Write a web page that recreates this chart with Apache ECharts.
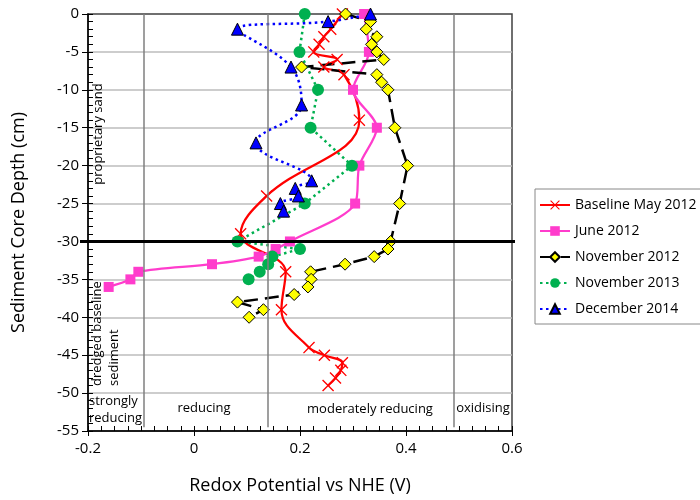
<!DOCTYPE html>
<html>
<head>
<meta charset="utf-8">
<script src="https://cdn.jsdelivr.net/npm/echarts@6/dist/echarts.min.js"></script>
<style>
  html, body { margin: 0; background: #fff; }
  #chart { width: 700px; height: 500px; }
</style>
</head>
<body>
<div id="chart"></div>
<script>
// depth (cm) and redox potential (V vs NHE) per survey
const baselineDepth = [0, -2, -3, -4, -5, -6, -7, -8, -14, -24, -29, -34, -39, -44, -45, -46, -47, -48, -49];
const baselineEh = [0.28, 0.258, 0.245, 0.236, 0.226, 0.27, 0.245, 0.283, 0.312, 0.137, 0.088, 0.173, 0.165, 0.217, 0.246, 0.28, 0.277, 0.267, 0.253];

const june2012Depth = [0, -5, -10, -15, -20, -25, -30, -31, -32, -33, -34, -35, -36];
const june2012Eh = [0.321, 0.33, 0.3, 0.345, 0.312, 0.304, 0.181, 0.154, 0.122, 0.034, -0.105, -0.12, -0.161];

const nov2012Depth = [0, -1, -2, -3, -4, -5, -6, -7, -8, -9, -10, -15, -20, -25, -30, -31, -32, -33, -34, -35, -36, -37, -38, -39, -40];
const nov2012Eh = [0.286, 0.333, 0.325, 0.345, 0.335, 0.345, 0.358, 0.203, 0.345, 0.354, 0.366, 0.379, 0.403, 0.388, 0.371, 0.366, 0.34, 0.285, 0.22, 0.221, 0.215, 0.189, 0.082, 0.131, 0.104];

const nov2013Depth = [0, -5, -10, -15, -20, -25, -30, -31, -32, -33, -34, -35];
const nov2013Eh = [0.209, 0.199, 0.234, 0.22, 0.298, 0.209, 0.082, 0.2, 0.148, 0.14, 0.124, 0.103];

const dec2014Depth = [0, -1, -2, -7, -12, -17, -22, -23, -24, -25, -26];
const dec2014Eh = [0.333, 0.253, 0.082, 0.183, 0.203, 0.117, 0.222, 0.191, 0.197, 0.163, 0.169];

const seriesNames = ['Baseline May 2012', 'June 2012', 'November 2012', 'November 2013', 'December 2014'];

// redox class boundaries (V) and the dredge depth (cm)
const zoneBounds = [-0.095, 0.14, 0.49];
const dredgeDepth = -30;

const xTicks = { min: -0.2, max: 0.6, interval: 0.2 };
const yTicks = { min: -55, max: 0, interval: 5 };

const pairs = (xs, ys) => xs.map((x, i) => [x, ys[i]]);
const FONT = '"Open Sans", sans-serif';
const crossPath = 'path://M0,1.6L1.6,0L10,8.4L18.4,0L20,1.6L11.6,10L20,18.4L18.4,20L10,11.6L1.6,20L0,18.4L8.4,10Z';

const chart = echarts.init(document.getElementById('chart'));

const option = {
  animation: false,
  textStyle: { fontFamily: FONT },
  grid: {
    left: 88, right: 188, top: 14, bottom: 68,
    show: true, borderColor: '#404040', borderWidth: 1.5,
  },
  legend: {
    orient: 'vertical',
    left: 535,
    top: 189,
    padding: [9, 8, 8, 4],
    itemWidth: 30,
    itemHeight: 12,
    itemGap: 12,
    borderColor: '#888',
    borderWidth: 1,
    textStyle: { fontSize: 14, color: '#000', fontFamily: FONT },
    data: seriesNames,
  },
  xAxis: [
    {
      type: 'value',
      min: xTicks.min, max: xTicks.max, interval: xTicks.interval,
      name: 'Redox Potential vs NHE (V)',
      nameLocation: 'middle',
      nameGap: 46,
      nameTextStyle: { fontSize: 18, color: '#000', fontFamily: FONT },
      axisLine: { onZero: false, lineStyle: { color: '#000', width: 1.5 } },
      axisTick: { show: true, inside: false, length: 5, lineStyle: { color: '#000' } },
      axisLabel: {
        fontSize: 15, color: '#000', margin: 10,
        formatter: (v) => (Math.abs(v) < 1e-9 ? '0' : v.toFixed(1)),
      },
      splitLine: { show: false },
    },
    {
      type: 'value',
      position: 'bottom',
      min: xTicks.min, max: xTicks.max, interval: xTicks.interval,
      axisLine: { show: false, onZero: false },
      axisTick: { show: true, inside: true, length: 5, lineStyle: { color: '#000' } },
      minorTick: { show: true, splitNumber: 8, length: 5, lineStyle: { color: '#000' } },
      axisLabel: { show: false },
      splitLine: { show: false },
    },
  ],
  yAxis: [
    {
      type: 'value',
      min: yTicks.min, max: yTicks.max, interval: yTicks.interval,
      name: 'Sediment Core Depth (cm)',
      nameLocation: 'middle',
      nameGap: 60,
      nameTextStyle: { fontSize: 18, color: '#000', fontFamily: FONT },
      axisLine: { onZero: false, lineStyle: { color: '#000', width: 1.5 } },
      axisTick: { show: true, inside: false, length: 6, lineStyle: { color: '#000' } },
      axisLabel: { fontSize: 15, color: '#000', margin: 9 },
      splitLine: {
        show: true, showMaxLine: false, showMinLine: false,
        lineStyle: { color: '#bdbdbd', width: 1.5 },
      },
    },
    {
      type: 'value',
      position: 'left',
      min: yTicks.min, max: yTicks.max, interval: yTicks.interval,
      axisLine: { show: false, onZero: false },
      axisTick: { show: true, inside: true, length: 5, lineStyle: { color: '#000' } },
      minorTick: { show: true, splitNumber: 5, length: 5, lineStyle: { color: '#000' } },
      axisLabel: { show: false },
      splitLine: { show: false },
    },
  ],
  series: [
    {
      name: seriesNames[0],
      type: 'line',
      smooth: 0.4,
      data: pairs(baselineEh, baselineDepth),
      symbol: crossPath,
      symbolSize: 12,
      lineStyle: { color: '#ff0000', width: 2.25 },
      itemStyle: { color: '#ff0000' },
      markLine: {
        silent: true,
        symbol: 'none',
        label: { show: false },
        lineStyle: { color: '#7f7f7f', width: 1.5, type: 'solid' },
        data: zoneBounds.map((b) => [
          { coord: [b, yTicks.max] },
          { coord: [b, yTicks.min + 0.5] },
        ]),
      },
    },
    {
      name: seriesNames[1],
      type: 'line',
      smooth: 0.3,
      data: pairs(june2012Eh, june2012Depth),
      symbol: 'rect',
      symbolSize: 10,
      lineStyle: { color: '#ff3ccc', width: 2.25 },
      itemStyle: { color: '#ff3ccc' },
    },
    {
      name: seriesNames[2],
      type: 'line',
      data: pairs(nov2012Eh, nov2012Depth),
      symbol: 'diamond',
      symbolSize: 12,
      lineStyle: { color: '#000', width: 2.5, type: [14, 7] },
      itemStyle: { color: '#ffff00', borderColor: '#000', borderWidth: 1 },
    },
    {
      name: seriesNames[3],
      type: 'line',
      data: pairs(nov2013Eh, nov2013Depth),
      symbol: 'circle',
      symbolSize: 12,
      lineStyle: { color: '#00b050', width: 2.5, type: [2.5, 3.5] },
      itemStyle: { color: '#00b050' },
    },
    {
      name: seriesNames[4],
      type: 'line',
      smooth: 0.4,
      data: pairs(dec2014Eh, dec2014Depth),
      symbol: 'triangle',
      symbolSize: 12,
      lineStyle: { color: '#0000ff', width: 2.5, type: [2.5, 3.5] },
      itemStyle: { color: '#0000ff', borderColor: '#000', borderWidth: 1 },
    },
  ],
};

chart.setOption(option);

// dredge line and zone labels, placed from the chart's own scales
const pL = chart.convertToPixel({ gridIndex: 0 }, [xTicks.min, dredgeDepth]);
const pR = chart.convertToPixel({ gridIndex: 0 }, [xTicks.max, dredgeDepth]);
const txt = (x, y, text, extra) => ({
  type: 'text',
  x, y,
  silent: true,
  z: 100,
  style: Object.assign({ text, fontSize: 13, fill: '#000', fontFamily: FONT, align: 'center', verticalAlign: 'middle' }, extra),
});

chart.setOption({
  graphic: [
    {
      type: 'line',
      silent: true,
      z: 50,
      shape: { x1: pL[0] - 8, y1: pL[1], x2: pR[0] + 3, y2: pR[1] },
      style: { stroke: '#000', lineWidth: 3 },
    },
    Object.assign(txt(98, 134, 'proprietary sand'), { rotation: Math.PI / 2 }),
    Object.assign(txt(89, 386, 'dredged baseline\nsediment', { align: 'left', verticalAlign: 'top', lineHeight: 17 }), { rotation: Math.PI / 2 }),
    txt(89, 393, 'strongly\nreducing', { align: 'left', verticalAlign: 'top', lineHeight: 17 }),
    txt(204, 408, 'reducing'),
    txt(370, 409, 'moderately reducing'),
    txt(483, 408, 'oxidising'),
  ],
});
</script>
</body>
</html>
